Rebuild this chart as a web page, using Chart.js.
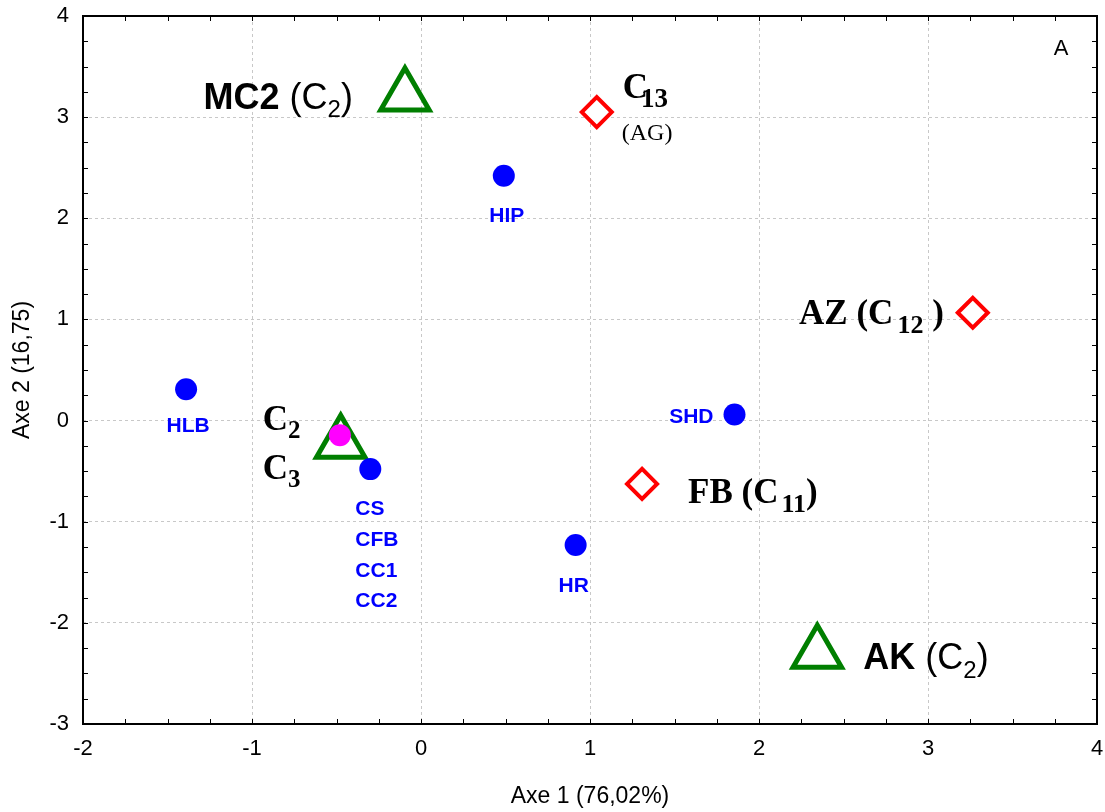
<!DOCTYPE html>
<html lang="fr">
<head>
<meta charset="UTF-8">
<title>ACP - Axe 1 / Axe 2</title>
<script src="https://cdn.jsdelivr.net/npm/chart.js"></script>
<style>
  html, body { margin: 0; padding: 0; background: #fff; }
  canvas { display: block; }
</style>
</head>
<body>
<canvas id="acpChart" width="1105" height="812"></canvas>
<script>
    // Variables (blue circles)
    const varNames = ['HIP', 'HLB', 'SHD', 'CS', 'HR'];
    const varX = [0.49, -1.39, 1.855, -0.30, 0.915];
    const varY = [2.42, 0.31, 0.06, -0.48, -1.23];

    // Centroid (magenta)
    const centX = [-0.48];
    const centY = [-0.145];

    // Groups C2 / C3 (green triangles)
    const triNames = ['MC2', 'C2', 'AK'];
    const triX = [-0.095, -0.475, 2.345];
    const triY = [3.21, -0.225, -2.30];

    // Groups C11 / C12 / C13 (red diamonds)
    const diaNames = ['C13', 'AZ', 'FB'];
    const diaX = [1.04, 3.265, 1.308];
    const diaY = [3.05, 1.066, -0.626];

    const xTicks = [-2, -1, 0, 1, 2, 3, 4];
    const yTicks = [-3, -2, -1, 0, 1, 2, 3, 4];

    const SANS = "'Liberation Sans', Arial, sans-serif";
    const SERIF = "'Liberation Serif', 'Times New Roman', serif";
    const BLUE = '#0000ff';

    const pts = (xs, ys) => xs.map((x, i) => ({ x: x, y: ys[i] }));

    // text pieces for each marker, offsets in px from the marker
    const sansB = s => 'bold ' + s + 'px ' + SANS;
    const sansR = s => s + 'px ' + SANS;
    const serB = s => 'bold ' + s + 'px ' + SERIF;
    const serR = s => s + 'px ' + SERIF;

    const markerText = {
        HIP: [{ dx: 3, dy: 46, align: 'center', color: BLUE, parts: [{ t: 'HIP', font: sansB(21) }] }],
        HLB: [{ dx: 2, dy: 43, align: 'center', color: BLUE, parts: [{ t: 'HLB', font: sansB(21) }] }],
        SHD: [{ dx: -21, dy: 8, align: 'right', color: BLUE, parts: [{ t: 'SHD', font: sansB(21) }] }],
        CS: ['CS', 'CFB', 'CC1', 'CC2'].map((t, i) => (
            { dx: -15, dy: 46 + i * 30.7, align: 'left', color: BLUE, parts: [{ t: t, font: sansB(21) }] })),
        HR: [{ dx: -2, dy: 47, align: 'center', color: BLUE, parts: [{ t: 'HR', font: sansB(21) }] }],
        MC2: [{ dx: -52, dy: 13, align: 'right', color: '#000', parts: [
            { t: 'MC2', font: sansB(36) }, { t: ' (C', font: sansR(36) },
            { t: '2', font: sansR(24), dy: 8 }, { t: ')', font: sansR(36) }] }],
        AK: [{ dx: 46, dy: 16, align: 'left', color: '#000', parts: [
            { t: 'AK', font: sansB(36) }, { t: ' (C', font: sansR(36) },
            { t: '2', font: sansR(24), dy: 9 }, { t: ')', font: sansR(36) }] }],
        C2: [
            { dx: -78, dy: -13.5, align: 'left', color: '#000', parts: [
                { t: 'C', font: serB(35) }, { t: '2', font: serB(25), dy: 8 }] },
            { dx: -78, dy: 35.5, align: 'left', color: '#000', parts: [
                { t: 'C', font: serB(35) }, { t: '3', font: serB(25), dy: 8 }] }],
        C13: [
            { dx: 26, dy: -14, align: 'left', color: '#000', parts: [
                { t: 'C', font: serB(35) }, { t: '13', font: serB(27), dy: 9, gap: -7 }] },
            { dx: 25, dy: 28, align: 'left', color: '#000', parts: [{ t: '(AG)', font: serR(24) }] }],
        AZ: [{ dx: -29, dy: 11, align: 'right', color: '#000', parts: [
            { t: 'AZ (C', font: serB(35) }, { t: '12', font: serB(26), dy: 9, gap: 4 }, { t: ' )', font: serB(35) }] }],
        FB: [{ dx: 46, dy: 19, align: 'left', color: '#000', parts: [
            { t: 'FB (C', font: serB(35) }, { t: '11', font: serB(26), dy: 9, gap: 3 }, { t: ')', font: serB(35) }] }]
    };

    function drawRich(ctx, item, x, y) {
        let total = 0;
        item.parts.forEach(p => {
            ctx.font = p.font;
            p.w = ctx.measureText(p.t).width;
            total += p.w + (p.gap || 0);
        });
        let cx = x;
        if (item.align === 'right') cx = x - total;
        else if (item.align === 'center') cx = x - total / 2;
        ctx.fillStyle = item.color;
        ctx.textAlign = 'left';
        ctx.textBaseline = 'alphabetic';
        item.parts.forEach(p => {
            ctx.font = p.font;
            cx += p.gap || 0;
            ctx.fillText(p.t, cx, y + (p.dy || 0));
            cx += p.w;
        });
    }

    // frame with inward minor ticks every 0.25
    const framePlugin = {
        id: 'frame',
        afterDatasetsDraw(chart) {
            const { ctx, chartArea: a, scales: { x, y } } = chart;
            ctx.save();
            ctx.strokeStyle = '#000';
            ctx.lineWidth = 1;
            ctx.beginPath();
            for (let v = x.min; v <= x.max + 1e-9; v += 0.25) {
                const px = Math.round(x.getPixelForValue(v)) + 0.5;
                ctx.moveTo(px, a.bottom); ctx.lineTo(px, a.bottom - 5);
                ctx.moveTo(px, a.top); ctx.lineTo(px, a.top + 5);
            }
            for (let v = y.min; v <= y.max + 1e-9; v += 0.25) {
                const py = Math.round(y.getPixelForValue(v)) + 0.5;
                ctx.moveTo(a.left, py); ctx.lineTo(a.left + 5, py);
                ctx.moveTo(a.right, py); ctx.lineTo(a.right - 5, py);
            }
            ctx.stroke();
            ctx.lineWidth = 2;
            ctx.strokeRect(a.left, a.top, a.right - a.left, a.bottom - a.top);
            ctx.restore();
        }
    };

    const textPlugin = {
        id: 'markerText',
        afterDatasetsDraw(chart) {
            const { ctx, chartArea: a, scales: { x, y } } = chart;
            ctx.save();
            const groups = [[varNames, varX, varY], [triNames, triX, triY], [diaNames, diaX, diaY]];
            groups.forEach(([names, xs, ys]) => {
                names.forEach((n, i) => {
                    const px = x.getPixelForValue(xs[i]);
                    const py = y.getPixelForValue(ys[i]);
                    (markerText[n] || []).forEach(item => drawRich(ctx, item, px + item.dx, py + item.dy));
                });
            });
            ctx.fillStyle = '#000';
            ctx.font = sansR(22);
            ctx.textAlign = 'center';
            ctx.fillText('A', a.right - 36, a.top + 39);
            ctx.restore();
        }
    };

    const ctx = document.getElementById('acpChart').getContext('2d');
    new Chart(ctx, {
        type: 'scatter',
        data: {
            datasets: [
                {
                    label: 'Centroïde',
                    data: pts(centX, centY),
                    pointStyle: 'circle',
                    pointRadius: 11,
                    pointBackgroundColor: '#ff00ff',
                    pointBorderWidth: 0
                },
                {
                    label: 'Variables',
                    data: pts(varX, varY),
                    pointStyle: 'circle',
                    pointRadius: 11,
                    pointBackgroundColor: BLUE,
                    pointBorderWidth: 0
                },
                {
                    label: 'C2 / C3',
                    data: pts(triX, triY),
                    pointStyle: 'triangle',
                    pointRadius: 28,
                    pointBackgroundColor: 'rgba(0,0,0,0)',
                    pointBorderColor: '#007f00',
                    pointBorderWidth: 5
                },
                {
                    label: 'C11 / C12 / C13',
                    data: pts(diaX, diaY),
                    pointStyle: 'rectRot',
                    pointRadius: 15,
                    pointBackgroundColor: '#fff',
                    pointBorderColor: '#ff0000',
                    pointBorderWidth: 4
                }
            ]
        },
        options: {
            responsive: false,
            animation: false,
            layout: { autoPadding: false, padding: { top: 16, right: 8, left: 0, bottom: 0 } },
            plugins: { legend: { display: false }, tooltip: { enabled: false } },
            scales: {
                x: {
                    type: 'linear',
                    min: xTicks[0],
                    max: xTicks[xTicks.length - 1],
                    afterBuildTicks: s => { s.ticks = xTicks.map(v => ({ value: v })); },
                    afterFit: s => { s.height = 88; s.paddingLeft = 0; s.paddingRight = 0; },
                    grid: { color: '#c8c8c8', drawTicks: false, lineWidth: 1 },
                    border: { display: false, dash: [3, 3] },
                    ticks: { color: '#000', padding: 12, font: { family: SANS, size: 22 } },
                    title: {
                        display: true,
                        text: 'Axe 1 (76,02%)',
                        color: '#000',
                        font: { family: SANS, size: 23 },
                        padding: { top: 0, bottom: 2 }
                    }
                },
                y: {
                    type: 'linear',
                    min: yTicks[0],
                    max: yTicks[yTicks.length - 1],
                    afterBuildTicks: s => { s.ticks = yTicks.map(v => ({ value: v })); },
                    afterFit: s => { s.width = 83; s.paddingTop = 0; s.paddingBottom = 0; },
                    grid: { color: '#c8c8c8', drawTicks: false, lineWidth: 1 },
                    border: { display: false, dash: [3, 3] },
                    ticks: { color: '#000', padding: 14, font: { family: SANS, size: 22 } },
                    title: {
                        display: true,
                        text: 'Axe 2 (16,75)',
                        color: '#000',
                        font: { family: SANS, size: 23 },
                        padding: { top: 9, bottom: 0 }
                    }
                }
            }
        },
        plugins: [framePlugin, textPlugin]
    });
</script>
</body>
</html>
